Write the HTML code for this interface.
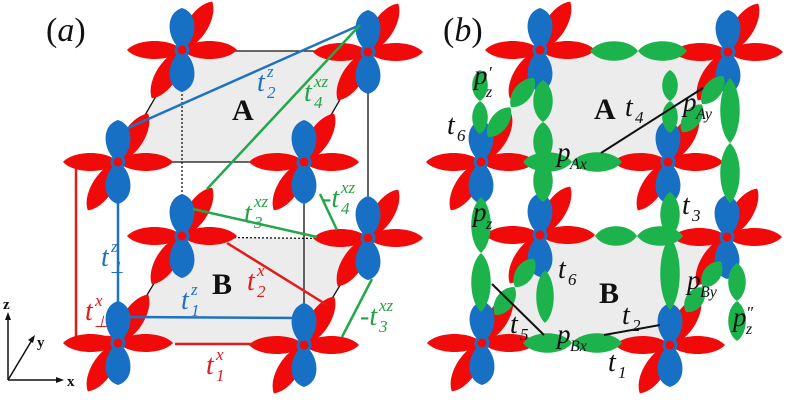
<!DOCTYPE html>
<html><head><meta charset="utf-8"><style>
html,body{margin:0;padding:0;background:#fff;width:800px;height:402px;overflow:hidden}
svg{display:block}
text{font-family:"Liberation Serif",serif;font-style:italic}
.r{fill:#e41b1b}.b{fill:#1f72c2}.g{fill:#23a347}.k{fill:#111}
.bold{font-weight:bold;font-style:normal}
</style></head><body>
<svg width="800" height="402" viewBox="0 0 800 402" xmlns="http://www.w3.org/2000/svg">
<defs>
<g id="atom">
 <path d="M0,0 C12,-14 46,-14 57,0 C46,14 12,14 0,0" fill="#f00a0a" transform="rotate(-58)"/>
 <path d="M0,0 C12,-14 46,-14 57,0 C46,14 12,14 0,0" fill="#f00a0a" transform="rotate(122)"/>
 <path d="M0,0 C8,-14 36,-19 42,0 C36,19 8,14 0,0" fill="#1870c4" transform="rotate(-90)"/>
 <path d="M0,0 C8,-14 36,-19 42,0 C36,19 8,14 0,0" fill="#1870c4" transform="rotate(90)"/>
 <path d="M0,0 C11,-12 44,-12 55,0 C44,12 11,12 0,0" fill="#f00a0a"/>
 <path d="M0,0 C11,-12 44,-12 55,0 C44,12 11,12 0,0" fill="#f00a0a" transform="rotate(180)"/>
 <circle r="6" fill="#f00a0a" stroke="#1870c4" stroke-width="3"/>
</g>
<path id="gl" d="M0,0 C20,-13 80,-13 100,0 C80,13 20,13 0,0" fill="#1db34c"/>
<path id="gw" d="M0,0 C20,-13 80,-13 100,0 C80,13 20,13 0,0" fill="#1db34c"/>
</defs>

<!-- ===== (a) ===== -->
<polygon points="182,51 368,51 304,162 118,162" fill="#ececec" stroke="#111" stroke-width="1.3"/>
<polygon points="182,237 368,239 304,345 118,343" fill="#ececec"/>
<line x1="182" y1="237" x2="368" y2="239" stroke="#111" stroke-width="1.3" stroke-dasharray="2,2"/>
<line x1="368" y1="239" x2="304" y2="345" stroke="#111" stroke-width="1.3"/>
<line x1="182" y1="237" x2="118" y2="343" stroke="#111" stroke-width="1.3"/>
<line x1="368" y1="52" x2="368" y2="238" stroke="#111" stroke-width="1.3"/>
<line x1="304" y1="162" x2="304" y2="345" stroke="#111" stroke-width="1.3"/>
<line x1="182" y1="50" x2="182" y2="236" stroke="#111" stroke-width="1.3" stroke-dasharray="2,2"/>
<line x1="118" y1="162" x2="118" y2="343" stroke="#1f72c2" stroke-width="2.5"/>
<polyline points="65,162 76,162 76,337 118,337" fill="none" stroke="#e41b1b" stroke-width="2.5"/>

<use href="#atom" x="182" y="50"/>
<use href="#atom" x="368" y="52"/>
<use href="#atom" x="118" y="162"/>
<use href="#atom" x="304" y="162"/>
<use href="#atom" x="182" y="236"/>
<use href="#atom" x="368" y="238"/>
<use href="#atom" x="118" y="343"/>
<use href="#atom" x="304" y="345"/>

<g stroke-width="2.5" fill="none">
<line x1="175" y1="344" x2="257" y2="344" stroke="#e41b1b"/>
<line x1="128" y1="317" x2="298" y2="318" stroke="#1f72c2"/>
<line x1="227" y1="243" x2="327" y2="305" stroke="#e41b1b"/>
<line x1="128" y1="128" x2="360" y2="25" stroke="#1f72c2"/>
<line x1="360" y1="25" x2="207" y2="189" stroke="#22a84a"/>
<line x1="193" y1="209" x2="317" y2="237" stroke="#22a84a"/>
<line x1="320" y1="194" x2="337" y2="230" stroke="#22a84a"/>
<line x1="372" y1="279" x2="342" y2="337" stroke="#22a84a"/>
</g>

<text x="46" y="41" font-size="34" class="k"><tspan font-style="normal">(</tspan>a<tspan font-style="normal">)</tspan></text>
<text x="257" y="91" font-size="28" class="b">t</text><text x="267" y="77" font-size="17" class="b">z</text><text x="267" y="98" font-size="17" class="b">2</text>
<text x="304" y="101" font-size="28" class="g">t</text><text x="314" y="87" font-size="17" class="g">xz</text><text x="314" y="108" font-size="17" class="g">4</text>
<text x="232" y="120" font-size="30" class="k bold">A</text>
<text x="244" y="222" font-size="28" class="g">t</text><text x="254" y="207" font-size="17" class="g">xz</text><text x="254" y="228" font-size="17" class="g">3</text>
<text x="322" y="207" font-size="28" class="g">-t</text><text x="341" y="193" font-size="17" class="g">xz</text><text x="341" y="214" font-size="17" class="g">4</text>
<text x="101" y="266" font-size="28" class="b">t</text><text x="111" y="252" font-size="17" class="b">z</text><text x="110" y="273" font-size="16" class="b" font-style="normal">⊥</text>
<text x="212" y="294" font-size="30" class="k bold">B</text>
<text x="247" y="290" font-size="28" class="r">t</text><text x="257" y="276" font-size="17" class="r">x</text><text x="257" y="297" font-size="17" class="r">2</text>
<text x="181" y="309" font-size="28" class="b">t</text><text x="191" y="295" font-size="17" class="b">z</text><text x="191" y="316" font-size="17" class="b">1</text>
<text x="85" y="320" font-size="28" class="r">t</text><text x="95" y="306" font-size="17" class="r">x</text><text x="94" y="327" font-size="16" class="r" font-style="normal">⊥</text>
<text x="360" y="325" font-size="28" class="g">-t</text><text x="379" y="311" font-size="17" class="g">xz</text><text x="379" y="332" font-size="17" class="g">3</text>
<text x="206" y="374" font-size="28" class="r">t</text><text x="216" y="360" font-size="17" class="r">x</text><text x="216" y="381" font-size="17" class="r">1</text>

<g stroke="#111" stroke-width="1.5" fill="#111">
<line x1="8" y1="380" x2="8" y2="318"/><polygon points="8,312 5,320 11,320" stroke="none"/>
<line x1="8" y1="380" x2="58" y2="380"/><polygon points="64,380 56,377 56,383" stroke="none"/>
<line x1="8" y1="380" x2="32" y2="340"/><polygon points="35,335 28,340 33,343" stroke="none"/>
</g>
<text x="3" y="309" font-size="15" class="k bold">z</text>
<text x="67" y="386" font-size="15" class="k bold">x</text>
<text x="37" y="347" font-size="15" class="k bold">y</text>

<!-- ===== (b) ===== -->
<polygon points="540,51 728,51 668,162 481,162" fill="#ececec"/>
<polygon points="540,235 727,236 670,345 482,343" fill="#ececec"/>

<use href="#atom" x="540" y="50"/>
<use href="#atom" x="728" y="52"/>
<use href="#atom" x="481" y="162"/>
<use href="#atom" x="668" y="162"/>
<use href="#atom" x="540" y="235"/>
<use href="#atom" x="727" y="237"/>
<use href="#atom" x="482" y="343"/>
<use href="#atom" x="670" y="345"/>

<g>
<use href="#gl" transform="translate(590,51) scale(0.48,1)"/>
<use href="#gl" transform="translate(638,51) scale(0.49,1)"/>
<use href="#gl" transform="translate(523,162) scale(0.49,1)"/>
<use href="#gl" transform="translate(572,162) scale(0.50,1)"/>
<use href="#gw" transform="translate(488,137) rotate(-53) scale(0.37,0.9)"/>
<use href="#gw" transform="translate(511,107) rotate(-51) scale(0.37,0.9)"/>
<use href="#gw" transform="translate(682,132) rotate(-54) scale(0.34,0.9)"/>
<use href="#gw" transform="translate(702,104) rotate(-52) scale(0.35,0.9)"/>
<use href="#gl" transform="translate(480,70) rotate(90) scale(0.31,0.8)"/>
<use href="#gl" transform="translate(480,101) rotate(90) scale(0.33,0.8)"/>
<use href="#gl" transform="translate(481,197) rotate(90) scale(0.56,1)"/>
<use href="#gl" transform="translate(481,253) rotate(90) scale(0.59,1)"/>
<use href="#gl" transform="translate(543,80) rotate(90) scale(0.42,1)"/>
<use href="#gl" transform="translate(543,122) rotate(90) scale(0.40,1)"/>
<use href="#gl" transform="translate(543,160) rotate(90) scale(0.42,1)"/>
<use href="#gl" transform="translate(670,70) rotate(90) scale(0.31,0.8)"/>
<use href="#gl" transform="translate(670,101) rotate(90) scale(0.32,0.8)"/>
<use href="#gl" transform="translate(730,78) rotate(90) scale(0.65,1)"/>
<use href="#gl" transform="translate(730,143) rotate(90) scale(0.60,1)"/>
<use href="#gl" transform="translate(737,263) rotate(90) scale(0.38,0.9)"/>
<use href="#gl" transform="translate(737,301) rotate(90) scale(0.40,0.9)"/>
<use href="#gl" transform="translate(595,236) scale(0.42,1)"/>
<use href="#gl" transform="translate(637,236) scale(0.46,1)"/>
<use href="#gl" transform="translate(670,192) rotate(90) scale(0.45,1)"/>
<use href="#gl" transform="translate(670,237) rotate(90) scale(0.73,1)"/>
<use href="#gl" transform="translate(523,343) scale(0.49,1)"/>
<use href="#gl" transform="translate(572,343) scale(0.50,1)"/>
<use href="#gw" transform="translate(495,315) rotate(-55) scale(0.34,0.9)"/>
<use href="#gw" transform="translate(515,287) rotate(-56) scale(0.34,0.9)"/>
<use href="#gw" transform="translate(686,312) rotate(-55) scale(0.30,0.9)"/>
<use href="#gw" transform="translate(703,287) rotate(-55) scale(0.31,0.9)"/>
<use href="#gl" transform="translate(545,270) rotate(90) scale(0.53,0.9)"/>
</g>

<g stroke="#111" stroke-width="2">
<line x1="601" y1="153" x2="703" y2="88"/>
<line x1="604" y1="335" x2="660" y2="325"/>
<line x1="492" y1="284" x2="544" y2="335"/>
</g>

<text x="443" y="41" font-size="34" class="k"><tspan font-style="normal">(</tspan>b<tspan font-style="normal">)</tspan></text>
<text x="474" y="84" font-size="27" class="k">p</text><text x="486" y="97" font-size="16" class="k">z</text><text x="488" y="78" font-size="17" class="k" font-style="normal">′</text>
<text x="447" y="134" font-size="28" class="k">t</text><text x="457" y="141" font-size="17" class="k">6</text>
<text x="594" y="119" font-size="30" class="k bold">A</text>
<text x="625" y="116" font-size="28" class="k">t</text><text x="635" y="123" font-size="17" class="k">4</text>
<text x="683" y="111" font-size="27" class="k">p</text><text x="696" y="119" font-size="16" class="k">Ay</text>
<text x="557" y="161" font-size="27" class="k">p</text><text x="570" y="169" font-size="16" class="k">Ax</text>
<text x="682" y="214" font-size="28" class="k">t</text><text x="692" y="221" font-size="17" class="k">3</text>
<text x="473" y="221" font-size="27" class="k">p</text><text x="486" y="229" font-size="16" class="k">z</text>
<text x="558" y="278" font-size="28" class="k">t</text><text x="568" y="285" font-size="17" class="k">6</text>
<text x="599" y="303" font-size="30" class="k bold">B</text>
<text x="687" y="289" font-size="27" class="k">p</text><text x="700" y="297" font-size="16" class="k">By</text>
<text x="733" y="326" font-size="27" class="k">p</text><text x="746" y="334" font-size="16" class="k">z</text><text x="746" y="318" font-size="17" class="k" font-style="normal">″</text>
<text x="510" y="333" font-size="28" class="k">t</text><text x="520" y="340" font-size="17" class="k">5</text>
<text x="557" y="343" font-size="27" class="k">p</text><text x="570" y="351" font-size="16" class="k">Bx</text>
<text x="622" y="324" font-size="28" class="k">t</text><text x="632" y="331" font-size="17" class="k">2</text>
<text x="608" y="371" font-size="28" class="k">t</text><text x="618" y="378" font-size="17" class="k">1</text>
</svg>
</body></html>
